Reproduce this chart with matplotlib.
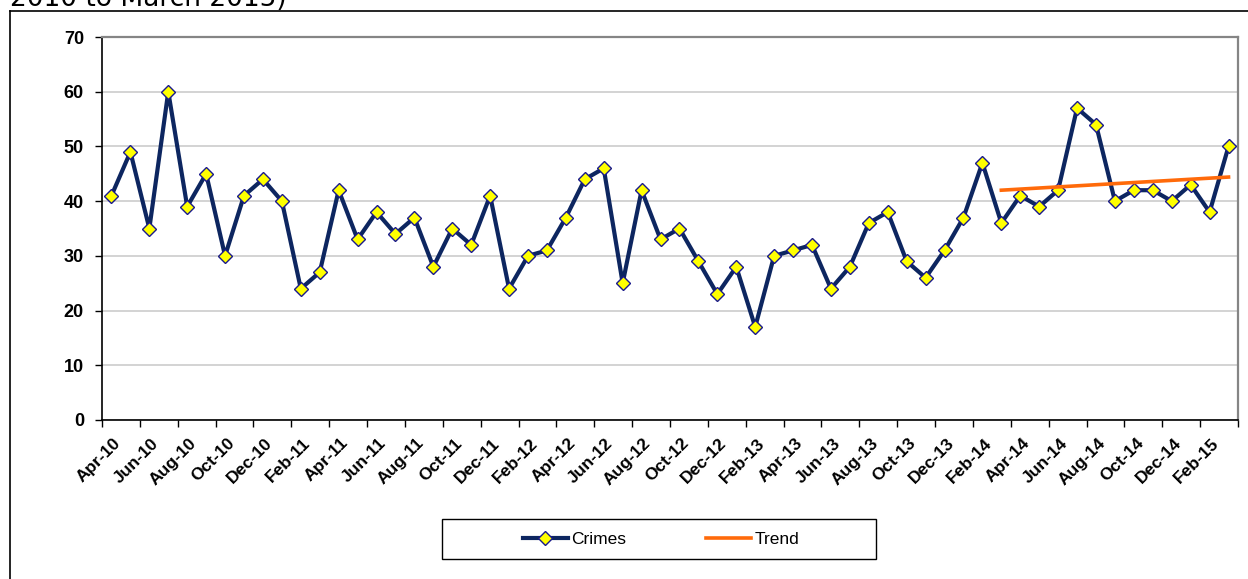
import matplotlib
matplotlib.use("Agg")
import matplotlib.pyplot as plt
from matplotlib.lines import Line2D
from matplotlib.patches import Rectangle
from matplotlib.transforms import ScaledTranslation

months = ["Apr-10", "May-10", "Jun-10", "Jul-10", "Aug-10", "Sep-10", "Oct-10", "Nov-10", "Dec-10",
          "Jan-11", "Feb-11", "Mar-11", "Apr-11", "May-11", "Jun-11", "Jul-11", "Aug-11", "Sep-11",
          "Oct-11", "Nov-11", "Dec-11",
          "Jan-12", "Feb-12", "Mar-12", "Apr-12", "May-12", "Jun-12", "Jul-12", "Aug-12", "Sep-12",
          "Oct-12", "Nov-12", "Dec-12",
          "Jan-13", "Feb-13", "Mar-13", "Apr-13", "May-13", "Jun-13", "Jul-13", "Aug-13", "Sep-13",
          "Oct-13", "Nov-13", "Dec-13",
          "Jan-14", "Feb-14", "Mar-14", "Apr-14", "May-14", "Jun-14", "Jul-14", "Aug-14", "Sep-14",
          "Oct-14", "Nov-14", "Dec-14",
          "Jan-15", "Feb-15", "Mar-15"]

crimes = [41, 49, 35, 60, 39, 45, 30, 41, 44,
          40, 24, 27, 42, 33, 38, 34, 37, 28, 35, 32, 41,
          24, 30, 31, 37, 44, 46, 25, 42, 33, 35, 29, 23,
          28, 17, 30, 31, 32, 24, 28, 36, 38, 29, 26, 31,
          37, 47, 36, 41, 39, 42, 57, 54, 40, 42, 42, 40,
          43, 38, 50]

trend_months = ["Mar-14", "Mar-15"]
trend_values = [42.0, 44.4]

W, H = 1248, 579
fig = plt.figure(figsize=(W / 100, H / 100), dpi=100)

# cut-off heading at the very top
fig.text(10 / W, 1 - 6.5 / H, "2010 to March 2015)", fontsize=19, family="DejaVu Sans",
         va="baseline", ha="left", color="black")

# outer frame (top and left edges)
fig.add_artist(Line2D([9.5 / W, 1.0], [1 - 10.5 / H, 1 - 10.5 / H], transform=fig.transFigure,
                      color="black", lw=1.2))
fig.add_artist(Line2D([9.5 / W, 9.5 / W], [0, 1 - 10.5 / H], transform=fig.transFigure,
                      color="black", lw=1.2))

ax = fig.add_axes([102 / W, 1 - 420 / H, 1136 / W, 383 / H])

x = list(range(len(months)))
navy = "#0d2660"
ax.plot(x, crimes, color=navy, lw=3.0, marker="D", markersize=7,
        markerfacecolor="#ffff00", markeredgecolor="#1a1a8c", markeredgewidth=1.0,
        label="Crimes", zorder=3)

tx = [months.index(m) for m in trend_months]
ax.plot(tx, trend_values, color="#ff6a0a", lw=2.6, label="Trend", zorder=4)

ax.set_xlim(-0.5, len(months) - 0.5)
ax.set_ylim(0, 70)
ax.set_yticks(range(0, 71, 10))
ax.yaxis.grid(True, color="#cccccc", lw=1.2)
ax.set_axisbelow(True)

ax.set_xticks([i - 0.5 for i in range(0, len(months) + 1, 2)])
ax.set_xticklabels([])
ax.set_xticks(x[::2], minor=True)
ax.set_xticklabels(months[::2], minor=True, rotation=45, ha="right", va="center",
                   rotation_mode="anchor", fontsize=12.5, fontweight="bold",
                   family="Liberation Sans")
ax.tick_params(axis="x", which="minor", length=0, pad=15)
ax.tick_params(axis="x", which="major", length=5, width=1, color="black", direction="out")
ax.tick_params(axis="y", length=5, width=1, color="black", direction="out", pad=8)
shift = ScaledTranslation(7 / 100, 0, fig.dpi_scale_trans)
for lab in ax.get_xticklabels(minor=True):
    lab.set_transform(lab.get_transform() + shift)
for lab in ax.get_yticklabels():
    lab.set_fontsize(13)
    lab.set_fontweight("bold")
    lab.set_family("Liberation Sans")

for s in ["left", "bottom"]:
    ax.spines[s].set_color("black")
    ax.spines[s].set_linewidth(1.2)
for s in ["top", "right"]:
    ax.spines[s].set_color("#858585")
    ax.spines[s].set_linewidth(1.6)

# legend box
fig.add_artist(Rectangle((442 / W, 1 - 559 / H), 434 / W, 40 / H, transform=fig.transFigure,
                         facecolor="white", edgecolor="black", lw=1.0))
leg = fig.legend(loc="center", bbox_to_anchor=(661 / W, 1 - 539 / H), ncol=2, frameon=False,
                 handlelength=2.6, handletextpad=0.2, columnspacing=4.6,
                 prop={"family": "Liberation Sans", "size": 12.5})

fig.savefig("out.png", dpi=100)
